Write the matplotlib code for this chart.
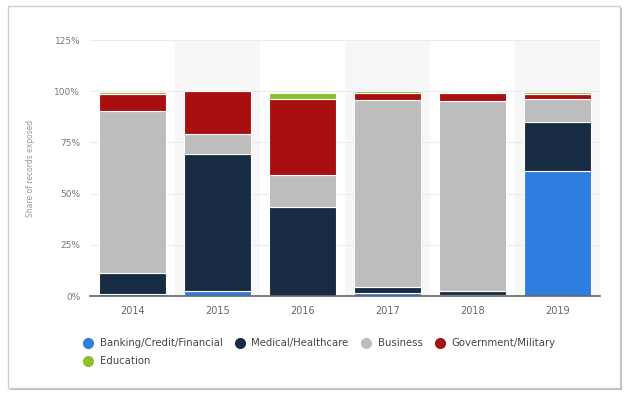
import numpy as np
import matplotlib
matplotlib.use("Agg")
import matplotlib.pyplot as plt
from matplotlib.patches import Rectangle
from matplotlib.lines import Line2D

years = ["2014", "2015", "2016", "2017", "2018", "2019"]
banking = [1.0, 2.6, 0.2, 1.5, 0.3, 61.2]
medical = [10.0, 66.8, 43.5, 2.7, 2.0, 23.6]
business = [79.5, 9.7, 15.5, 91.7, 93.0, 11.6]
government = [8.0, 20.9, 37.0, 3.0, 3.8, 2.1]
education = [1.3, 0.0, 2.9, 1.0, 0.0, 1.2]

series_names = ["Banking/Credit/Financial", "Medical/Healthcare", "Business",
                "Government/Military", "Education"]
colors = ["#2f7ddf", "#172b42", "#bdbdbd", "#a80f10", "#8cc02c"]


def main():
    fig = plt.figure(figsize=(6.28, 3.99), dpi=100)

    # card frame with a soft shadow
    W, H = 628.0, 399.0
    shadow = Rectangle((10 / W, 1 - 390 / H), 612 / W, 382 / H,
                       transform=fig.transFigure, facecolor="#b5b5b5",
                       edgecolor="none", zorder=0)
    card = Rectangle((8 / W, 1 - 388 / H), 612 / W, 382 / H,
                     transform=fig.transFigure, facecolor="white",
                     edgecolor="#cfcfcf", linewidth=1.0, zorder=1)
    fig.patches.extend([shadow, card])

    ax = fig.add_axes([90 / W, 1 - 296 / H, 510 / W, 256 / H])
    ax.set_facecolor("none")
    ax.set_zorder(2)

    x = np.arange(len(years))
    data = [banking, medical, business, government, education]

    # alternating column bands
    for i in x:
        if i % 2 == 1:
            ax.axvspan(i - 0.5, i + 0.5, color="#f7f7f7", zorder=0, lw=0)

    bottom = np.zeros(len(years))
    for vals, col in zip(data, colors):
        vals = np.array(vals)
        ax.bar(x, vals, bottom=bottom, width=0.78, color=col,
               edgecolor="white", linewidth=0.8, zorder=3)
        bottom += vals

    ax.set_xlim(-0.5, len(years) - 0.5)
    ax.set_ylim(0, 125)
    ax.set_yticks([0, 25, 50, 75, 100, 125])
    ax.set_yticklabels(["0%", "25%", "50%", "75%", "100%", "125%"])
    ax.set_xticks(x)
    ax.set_xticklabels(years)
    ax.tick_params(axis="y", length=0, pad=7, labelsize=6.5, labelcolor="#777777")
    ax.tick_params(axis="x", length=0, pad=7, labelsize=7, labelcolor="#666666")
    ax.grid(axis="y", color="#ebebeb", linewidth=0.8, zorder=1)
    ax.set_axisbelow(True)
    for side in ["top", "right", "left"]:
        ax.spines[side].set_visible(False)
    ax.spines["bottom"].set_color("#666666")
    ax.spines["bottom"].set_linewidth(1.2)
    ax.spines["bottom"].set_zorder(4)
    ax.set_ylabel("Share of records exposed", fontsize=5.5, color="#999999",
                  labelpad=14)

    handles = [Line2D([], [], marker="o", linestyle="none", markersize=7,
                      markerfacecolor=c, markeredgecolor=c) for c in colors]
    order = [0, 4, 1, 2, 3]
    leg = fig.legend([handles[k] for k in order], [series_names[k] for k in order],
                     ncol=4, loc="upper left", bbox_to_anchor=(78 / W, 1 - 333 / H),
                     frameon=False, fontsize=7.3, handletextpad=0.65,
                     columnspacing=1.2, labelspacing=0.8, handlelength=1.0,
                     borderpad=0)
    for t in leg.get_texts():
        t.set_color("#444444")

    fig.savefig("out.png", dpi=100)


if __name__ == '__main__':
    main()
